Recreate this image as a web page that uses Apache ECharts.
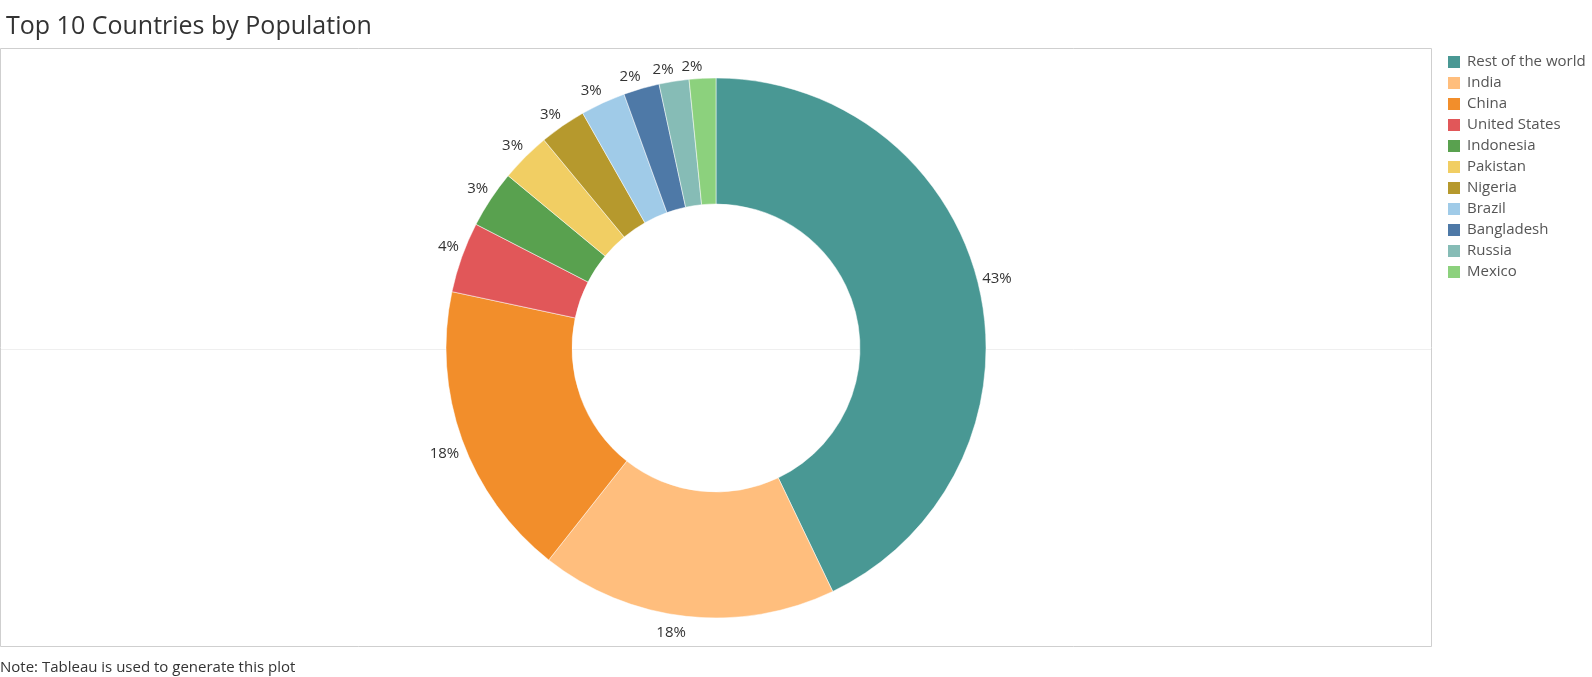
<!DOCTYPE html>
<html>
<head>
<meta charset="utf-8">
<script src="https://cdn.jsdelivr.net/npm/echarts@6/dist/echarts.min.js"></script>
<style>
html,body{margin:0;padding:0;background:#fff;}
#chart{width:1592px;height:677px;}
</style>
</head>
<body>
<div id="chart"></div>
<script>
const countries = ["Rest of the world","India","China","United States","Indonesia","Pakistan","Nigeria","Brazil","Bangladesh","Russia","Mexico"];
const populationMillions = [3450,1428,1425,340,277,240,224,216,173,144,128];
const colors = ["#499894","#FFBE7D","#F28E2B","#E15759","#59A14F","#F1CE63","#B6992D","#A0CBE8","#4E79A7","#86BCB6","#8CD17D"];

const total = populationMillions.reduce((a,b)=>a+b,0);
const FONT = "'Open Sans', sans-serif";
const CX = 716, CY = 348;
const pieData = countries.map((c,i)=>({name:c, value:populationMillions[i]}));
const chart = echarts.init(document.getElementById('chart'));
chart.setOption({
  animation:false,
  color: colors,
  graphic:[
    {type:'rect', shape:{x:0.5,y:48.5,width:1431,height:598}, style:{fill:'none', stroke:'#cfcfcf', lineWidth:1}, silent:true},
    {type:'line', shape:{x1:1,y1:349.5,x2:1431,y2:349.5}, style:{stroke:'#efefef', lineWidth:1}, silent:true, z:-1},
    {type:'text', x:6, y:27, style:{text:'Top 10 Countries by Population', font:"25px 'Open Sans', sans-serif", fill:'#333', verticalAlign:'middle'}, silent:true},
    {type:'text', x:0, y:668, style:{text:'Note: Tableau is used to generate this plot', font:"15px 'Open Sans', sans-serif", fill:'#333', verticalAlign:'middle'}, silent:true}
  ],
  legend:{
    orient:'vertical', left:1446, top:54, itemWidth:14, itemHeight:14, itemGap:5,
    icon:'rect', padding:0,
    textStyle:{fontFamily:FONT, fontSize:15, lineHeight:16, color:'#555', padding:[0,0,0,1]},
    data: countries
  },
  series:[{
    type:'pie',
    center:[CX,CY],
    radius:[144,270],
    startAngle:90,
    clockwise:true,
    avoidLabelOverlap:false,
    data: pieData,
    label:{show:true, position:'outside', fontFamily:FONT, fontSize:15, lineHeight:18, color:'#333',
      distanceToLabelLine:0,
      formatter: p => Math.round(p.value/total*100)+'%'},
    labelLine:{show:false, length:3, length2:0},
    labelLayout: function(params){
      const r = params.labelRect;
      const mid = r.y + r.height/2;
      return { dy: mid < CY ? -r.height/2 : r.height/2 + 4 };
    },
    itemStyle:{borderColor:'#fff', borderWidth:0.5},
    emphasis:{disabled:true}
  }]
});
</script>
</body>
</html>
